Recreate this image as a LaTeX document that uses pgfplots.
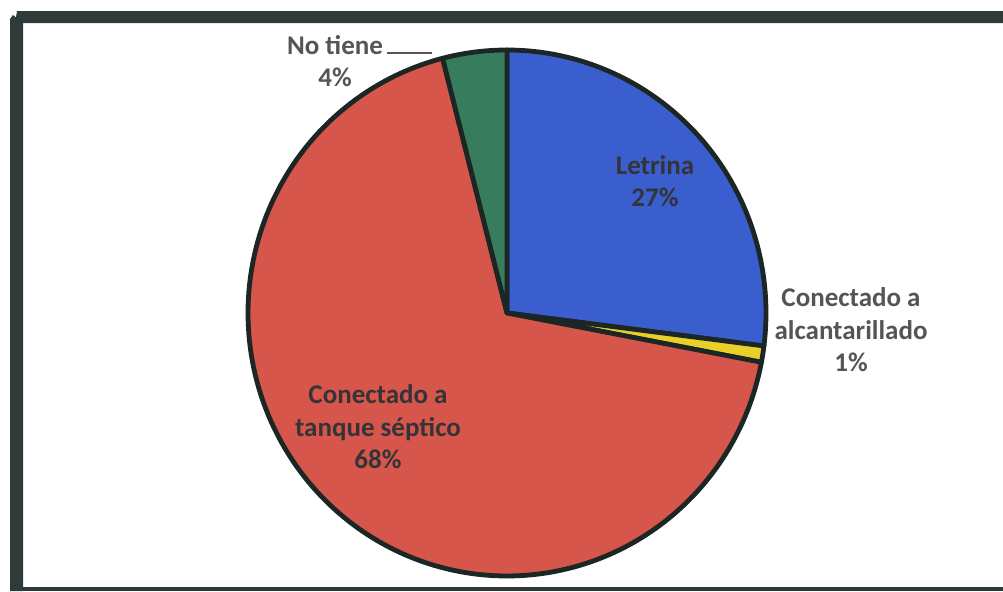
\documentclass[border=0pt]{standalone}
\usepackage{pgfplots}
\usepackage{pgfplotstable}
\pgfplotsset{compat=1.18}
\usepackage{fontspec}
\setmainfont{Carlito}
\definecolor{sliceblue}{RGB}{58,94,206}
\definecolor{slicered}{RGB}{214,86,75}
\definecolor{slicegreen}{RGB}{56,124,94}
\definecolor{sliceyellow}{RGB}{232,208,40}
\definecolor{edgec}{RGB}{28,38,36}
\definecolor{framec}{RGB}{47,58,58}
\definecolor{labc}{RGB}{52,52,56}
\definecolor{outc}{RGB}{85,85,85}

\pgfplotstableread{
cat value
Letrina 27
Alcantarillado 1
Tanque 68
NoTiene 4
}\piedata

\begin{document}
\begin{tikzpicture}
\pgfplotstablegetelem{0}{value}\of\piedata \let\va\pgfplotsretval
\pgfplotstablegetelem{1}{value}\of\piedata \let\vb\pgfplotsretval
\pgfplotstablegetelem{2}{value}\of\piedata \let\vc\pgfplotsretval
\pgfplotstablegetelem{3}{value}\of\piedata \let\vd\pgfplotsretval
\pgfmathsetmacro\aA{90}
\pgfmathsetmacro\aB{\aA-3.6*\va}
\pgfmathsetmacro\aC{\aB-3.6*\vb}
\pgfmathsetmacro\aD{\aC-3.6*\vc}
\pgfmathsetmacro\aE{\aD-3.6*\vd}
\begin{axis}[
  scale only axis, width=501.5pt, height=295.5pt,
  xmin=0, xmax=1003, ymin=0, ymax=591,
  hide axis, clip=false,
  every axis plot/.append style={line width=2.4pt, draw=edgec, line join=round},
]
\path (axis cs:0,0) rectangle (axis cs:1003,591);
% frame
\fill[framec] (axis cs:15,568) -- (axis cs:1003,568) -- (axis cs:1003,580) -- (axis cs:17,580) -- cycle;
\fill[framec] (axis cs:10,0) -- (axis cs:23,0) -- (axis cs:23,568) -- (axis cs:13,576) -- (axis cs:10,572) -- cycle;
\fill[framec] (axis cs:12,0) rectangle (axis cs:1003,4);
% slices
\addplot[fill=sliceblue, domain=\aB:\aA, samples=80] ({507+259*cos(x)},{278+263*sin(x)}) -- (axis cs:507,278) -- cycle;
\addplot[fill=sliceyellow, domain=\aC:\aB, samples=5] ({507+259*cos(x)},{278+263*sin(x)}) -- (axis cs:507,278) -- cycle;
\addplot[fill=slicered, domain=\aD:\aC, samples=160] ({507+259*cos(x)},{278+263*sin(x)}) -- (axis cs:507,278) -- cycle;
\addplot[fill=slicegreen, domain=\aE:\aD, samples=20] ({507+259*cos(x)},{278+263*sin(x)}) -- (axis cs:507,278) -- cycle;
% labels
\begin{scope}[every node/.style={font=\bfseries\fontsize{13.5}{16.3}\selectfont, align=center}]
\node[text=labc] at (axis cs:655,410) {Letrina\\27\%};
\node[text=outc] at (axis cs:851,261) {Conectado a\\alcantarillado\\1\%};
\node[text=labc] at (axis cs:378,164) {Conectado a\\tanque séptico\\68\%};
\node[text=outc] at (axis cs:335,530) {No tiene\\4\%};
\end{scope}
\draw[outc, line width=1pt] (axis cs:387,538) -- (axis cs:432,538);
\end{axis}
\end{tikzpicture}
\end{document}
